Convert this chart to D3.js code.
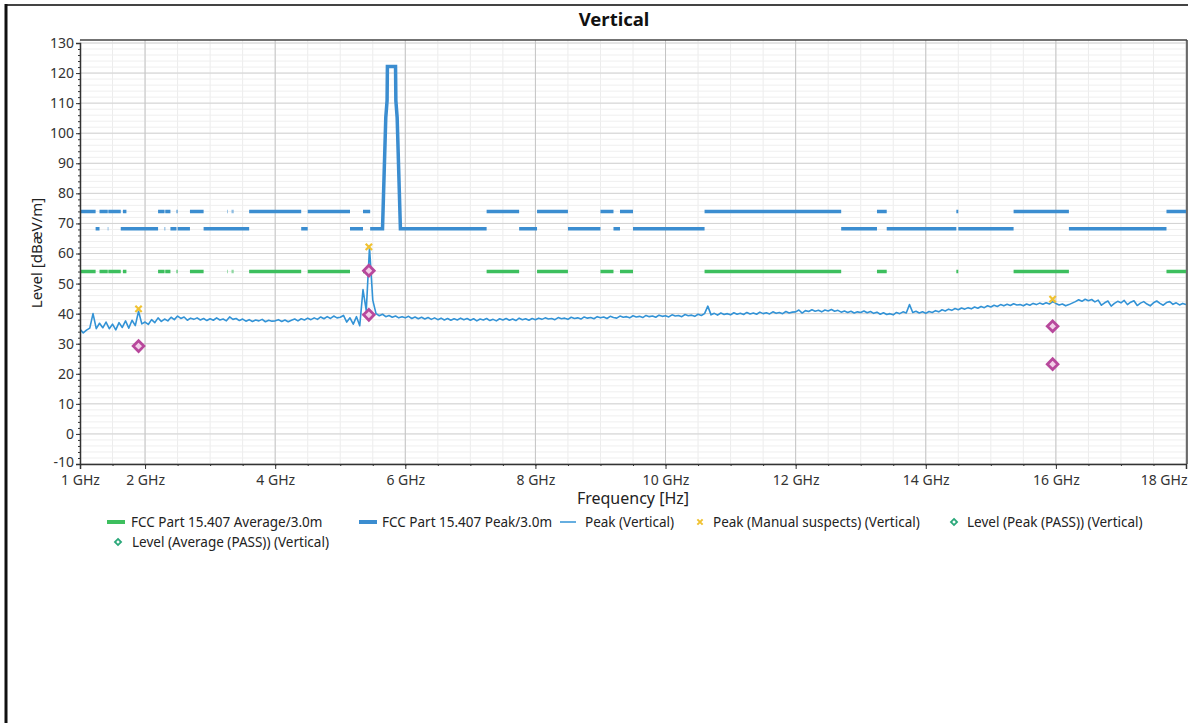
<!DOCTYPE html>
<html>
<head>
<meta charset="utf-8">
<script src="https://cdn.jsdelivr.net/npm/d3@7"></script>
<style>
body { margin: 0; background: #fff; }
svg { display: block; font-family: "Segoe UI", "Noto Sans", sans-serif; }
</style>
</head>
<body>
<svg id="chart" width="1188" height="723"></svg>
<script>
// sweep: 1.00 GHz .. 18.00 GHz, 0.05 GHz per point
var freqStart = 1.0;
var freqStep = 0.05;
var peakTrace = [
  34.8,33.6,34.5,35.2,40.0,35.0,36.8,35.3,37.2,35.0,36.5,34.6,37.0,35.4,37.6,35.2,37.8,36.0,40.8,36.6,
  37.2,36.4,38.0,37.0,38.6,37.4,38.2,37.6,38.8,38.0,39.2,38.4,38.9,37.8,38.5,38.1,38.6,37.9,38.4,37.7,
  38.3,37.8,38.6,37.9,38.2,37.6,38.9,38.1,38.4,37.7,38.2,37.5,38.0,37.4,37.9,37.6,38.1,37.3,37.8,37.5,
  37.6,38.0,37.4,37.9,37.3,37.8,38.2,37.6,38.3,37.9,38.5,38.0,38.6,38.1,38.9,38.3,39.0,38.4,39.2,38.6,
  38.8,39.4,37.2,38.6,36.5,39.0,36.0,48.0,41.0,62.0,44.5,40.0,39.3,39.8,39.0,39.4,38.8,39.2,38.6,39.0,
  38.6,39.1,38.4,38.9,38.3,38.8,38.2,38.7,38.1,38.6,38.0,38.5,37.9,38.4,37.8,38.3,37.9,38.5,38.0,38.4,
  37.8,38.3,37.6,38.2,37.9,38.4,37.7,38.1,37.6,38.3,37.9,38.4,37.8,38.2,37.7,38.5,38.0,38.3,37.8,38.4,
  38.0,38.5,38.1,38.6,38.2,38.4,38.0,38.7,38.3,38.5,38.1,38.8,38.4,38.6,38.2,38.9,38.5,38.7,38.3,39.0,
  38.6,38.9,38.4,39.1,38.7,38.5,39.2,38.8,39.0,38.6,39.3,38.9,39.1,38.7,39.4,39.0,39.2,38.8,39.5,39.1,
  39.3,38.9,39.6,39.2,39.4,39.0,39.7,39.3,39.5,39.1,39.8,39.4,40.0,42.5,39.6,40.1,39.5,40.2,39.7,40.0,
  39.6,40.3,39.8,40.1,39.7,40.4,39.9,40.2,39.8,40.5,40.0,40.3,39.9,40.6,40.1,40.4,40.0,40.7,40.2,40.5,
  40.6,41.2,40.2,41.0,40.7,41.3,40.8,41.1,40.6,41.2,40.9,41.4,40.8,41.1,40.5,40.9,40.4,40.8,40.2,40.6,
  40.4,40.9,40.3,40.7,40.1,40.5,39.8,40.3,39.7,40.0,39.6,40.4,40.0,40.6,40.2,43.0,40.4,40.8,40.2,40.6,
  40.1,40.7,40.4,41.0,40.6,41.3,40.9,41.5,41.1,41.7,41.3,41.9,41.5,42.0,41.6,42.2,41.8,42.4,42.0,42.6,
  42.2,42.8,42.4,43.0,42.6,43.1,42.7,43.3,42.9,43.0,42.6,43.2,42.8,43.4,43.0,43.5,43.1,43.6,43.2,44.0,
  43.4,42.9,43.2,42.6,43.0,43.5,44.0,44.6,44.1,44.8,44.3,44.7,43.9,44.5,42.8,43.6,44.2,42.5,43.4,44.1,
  43.6,44.4,43.0,43.8,44.3,42.7,43.5,44.0,43.2,42.6,43.6,44.2,43.4,42.8,43.7,44.0,43.1,43.6,42.9,43.4,
  43.0
];

// restricted bands (GHz): peak limit 74, average limit 54
var restrictedBands = [
  [1.0,1.24],[1.3,1.427],[1.435,1.6265],[1.645,1.6465],[1.66,1.71],[1.7188,1.7222],
  [2.2,2.3],[2.31,2.39],[2.4835,2.5],[2.69,2.9],[3.26,3.267],[3.332,3.339],[3.3458,3.358],
  [3.6,4.4],[4.5,5.15],[5.35,5.46],[7.25,7.75],[8.025,8.5],[9.0,9.2],[9.3,9.5],
  [10.6,12.7],[13.25,13.4],[14.47,14.5],[15.35,16.2],[17.7,18.0]
];
// other bands (GHz): peak limit 68.2
var peakLowBands = [
  [1.24,1.3],[1.427,1.435],[1.6265,2.2],[2.3,2.31],[2.39,2.4835],[2.5,2.69],[2.9,3.6],
  [4.4,4.5],[5.15,5.35],[7.75,8.025],[8.5,9.0],[9.2,9.3],[9.5,10.6],[12.7,13.25],
  [13.4,14.47],[14.5,15.35],[16.2,17.7]
];
// 5.725-5.85 GHz band edge mask [GHz, dB]
var bandEdgeMask = [
  [5.46,68.2],[5.65,68.2],[5.7,105.2],[5.72,110.8],[5.725,122.2],[5.85,122.2],
  [5.855,110.8],[5.875,105.2],[5.925,68.2],[7.25,68.2]
];
var peakHigh = 74;
var peakLow = 68.2;
var avgLimit = 54;

var suspects = [[1.90,41.6],[5.44,62.2],[15.95,44.8]];
var levelPeakPass = [[1.90,29.2],[5.44,54.3],[15.95,35.8]];
var levelAvgPass = [[5.44,39.6],[15.95,23.2]];

var xTicks = [1,2,4,6,8,10,12,14,16,18];
var yTicks = [-10,0,10,20,30,40,50,60,70,80,90,100,110,120,130];

var legendItems = [
  "FCC Part 15.407 Average/3.0m",
  "FCC Part 15.407 Peak/3.0m",
  "Peak (Vertical)",
  "Peak (Manual suspects) (Vertical)",
  "Level (Peak (PASS)) (Vertical)",
  "Level (Average (PASS)) (Vertical)"
];

var cPeakLim = "#3b8dd0", cAvgLim = "#3dbf5e", cTrace = "#3393d6";
var cSuspect = "#f0c232", cDiamond = "#b8489c", cLegDiamond = "#2ba87a";

var svg = d3.select("#chart");
var pLeft = 80, pRight = 1186, pTop = 40, pBottom = 464;

var x = d3.scaleLinear().domain([1, 18]).range([pLeft, pRight]);
var y = d3.scaleLinear().domain([-10, 130]).range([pBottom, 43]);

// outer frame
svg.append("line").attr("x1", 5).attr("x2", 1188).attr("y1", 5).attr("y2", 5)
  .style("stroke", "#444").style("stroke-width", 2);
svg.append("line").attr("x1", 6).attr("x2", 6).attr("y1", 4).attr("y2", 723)
  .style("stroke", "#111").style("stroke-width", 3);

svg.append("text").attr("x", 614).attr("y", 26).attr("text-anchor", "middle")
  .style("font-size", "18.5px").style("font-weight", "bold").style("fill", "#111").text("Vertical");

var defs = svg.append("defs");
defs.append("clipPath").attr("id", "plotclip").append("rect")
  .attr("x", pLeft).attr("y", pTop).attr("width", pRight - pLeft).attr("height", pBottom - pTop);

// grid
var grid = svg.append("g");
grid.selectAll(".gxm").data(x.ticks(34)).enter().append("line")
  .attr("x1", d => x(d)).attr("x2", d => x(d)).attr("y1", pTop).attr("y2", pBottom)
  .style("stroke", "#ececec").style("stroke-width", 1);
grid.selectAll(".gym").data(d3.range(-10, 131, 2)).enter().append("line")
  .attr("x1", pLeft).attr("x2", pRight).attr("y1", d => y(d)).attr("y2", d => y(d))
  .style("stroke", "#efefef").style("stroke-width", 1);
grid.selectAll(".gy").data(yTicks).enter().append("line")
  .attr("x1", pLeft).attr("x2", pRight).attr("y1", d => y(d)).attr("y2", d => y(d))
  .style("stroke", "#d2d2d2").style("stroke-width", 1);
grid.selectAll(".gx").data(xTicks.slice(1)).enter().append("line")
  .attr("x1", d => x(d)).attr("x2", d => x(d)).attr("y1", pTop).attr("y2", pBottom)
  .style("stroke", "#c4c4c4").style("stroke-width", 1);

var plot = svg.append("g").attr("clip-path", "url(#plotclip)");

function bandPath(bands, level) {
  return bands.map(b => "M" + x(b[0]) + "," + y(level) + "H" + x(b[1])).join("");
}

// limit lines
plot.append("path").attr("d", bandPath(restrictedBands, avgLimit))
  .style("fill", "none").style("stroke", cAvgLim).style("stroke-width", 3.5);
plot.append("path").attr("d", bandPath(restrictedBands, peakHigh))
  .style("fill", "none").style("stroke", cPeakLim).style("stroke-width", 3.5);
plot.append("path").attr("d", bandPath(peakLowBands, peakLow))
  .style("fill", "none").style("stroke", cPeakLim).style("stroke-width", 3.5);
var maskLine = d3.line().x(d => x(d[0])).y(d => y(d[1]));
plot.append("path").datum(bandEdgeMask).attr("d", maskLine)
  .style("fill", "none").style("stroke", cPeakLim).style("stroke-width", 3.5)
  .style("stroke-linejoin", "miter");

// peak trace
var traceLine = d3.line().x((d, i) => x(freqStart + i * freqStep)).y(d => y(d));
plot.append("path").datum(peakTrace).attr("d", traceLine)
  .style("fill", "none").style("stroke", cTrace).style("stroke-width", 1.6)
  .style("stroke-linejoin", "round");

// markers
var diamond = d3.symbol().type(d3.symbolDiamond2).size(72);
plot.selectAll(".lp").data(levelPeakPass.concat(levelAvgPass)).enter().append("path")
  .attr("d", diamond).attr("transform", d => "translate(" + x(d[0]) + "," + y(d[1]) + ")")
  .style("fill", "#f2cfe8").style("stroke", cDiamond).style("stroke-width", 2.8);
var cross = d3.symbol().type(d3.symbolX).size(28);
plot.selectAll(".sx").data(suspects).enter().append("path")
  .attr("d", cross).attr("transform", d => "translate(" + x(d[0]) + "," + y(d[1]) + ")")
  .style("fill", "none").style("stroke", cSuspect).style("stroke-width", 2.2);

// plot border
svg.append("line").attr("x1", pLeft).attr("x2", pRight + 1).attr("y1", pTop).attr("y2", pTop)
  .style("stroke", "#444").style("stroke-width", 1.5);
svg.append("line").attr("x1", pRight + 1).attr("x2", pRight + 1).attr("y1", pTop).attr("y2", pBottom)
  .style("stroke", "#444").style("stroke-width", 1.5);

// axes
var yAxis = d3.axisLeft(y).tickValues(yTicks).tickSize(4).tickPadding(2)
  .tickFormat(d => String(d));
var gy = svg.append("g").attr("transform", "translate(" + pLeft + ",0)").call(yAxis);
var yMinor = d3.axisLeft(y).tickValues(d3.range(-10, 131, 2)).tickSize(2).tickFormat("");
svg.append("g").attr("transform", "translate(" + pLeft + ",0)").call(yMinor)
  .select(".domain").remove();

var xAxis = d3.axisBottom(x).tickValues(xTicks).tickSize(5).tickPadding(6)
  .tickFormat(d => d + " GHz");
var gx = svg.append("g").attr("transform", "translate(0," + pBottom + ")").call(xAxis);
var xMinor = d3.axisBottom(x).tickValues(x.ticks(34)).tickSize(2).tickFormat("");
svg.append("g").attr("transform", "translate(0," + pBottom + ")").call(xMinor)
  .select(".domain").remove();

[gx, gy].forEach(function (g) {
  g.select(".domain").style("stroke", "#333").style("stroke-width", 1.5);
  g.selectAll(".tick text").style("font-size", "14px").style("fill", "#333")
    .style("font-family", "'Segoe UI','Noto Sans',sans-serif");
});
svg.selectAll("g.tick line").style("stroke", "#333");
gx.selectAll(".tick").filter(d => d === 18).select("text").attr("text-anchor", "end").attr("dx", 1);
gy.selectAll(".tick").filter(d => d === -10).select("text").attr("dy", "0.2em");

svg.append("text").attr("x", 633).attr("y", 504).attr("text-anchor", "middle")
  .style("font-size", "16px").style("fill", "#222").text("Frequency [Hz]");
svg.append("text").attr("transform", "translate(42,253) rotate(-90)").attr("text-anchor", "middle")
  .style("font-size", "15px").style("fill", "#222").text("Level [dBæV/m]");

// legend
var leg = svg.append("g").style("font-size", "13.5px").style("fill", "#222");
var legIcon = [116, 368, 568, 700, 954, 118];
var legText = [131, 382, 585, 713, 967, 132];
var legY = [522, 522, 522, 522, 522, 542];
legendItems.forEach(function (t, i) {
  leg.append("text").attr("x", legText[i]).attr("y", legY[i] + 5).text(t);
});
leg.append("line").attr("x1", legIcon[0] - 9).attr("x2", legIcon[0] + 9)
  .attr("y1", legY[0]).attr("y2", legY[0]).style("stroke", cAvgLim).style("stroke-width", 4);
leg.append("line").attr("x1", legIcon[1] - 9).attr("x2", legIcon[1] + 9)
  .attr("y1", legY[1]).attr("y2", legY[1]).style("stroke", cPeakLim).style("stroke-width", 4);
leg.append("line").attr("x1", legIcon[2] - 8).attr("x2", legIcon[2] + 8)
  .attr("y1", legY[2]).attr("y2", legY[2]).style("stroke", cTrace).style("stroke-width", 1.5);
leg.append("path").attr("d", d3.symbol().type(d3.symbolX).size(20))
  .attr("transform", "translate(" + legIcon[3] + "," + legY[3] + ")")
  .style("fill", "none").style("stroke", cSuspect).style("stroke-width", 2);
[4, 5].forEach(function (i) {
  leg.append("path").attr("d", d3.symbol().type(d3.symbolDiamond2).size(24))
    .attr("transform", "translate(" + legIcon[i] + "," + legY[i] + ")")
    .style("fill", "#fff").style("stroke", cLegDiamond).style("stroke-width", 1.8);
});
</script>
</body>
</html>
